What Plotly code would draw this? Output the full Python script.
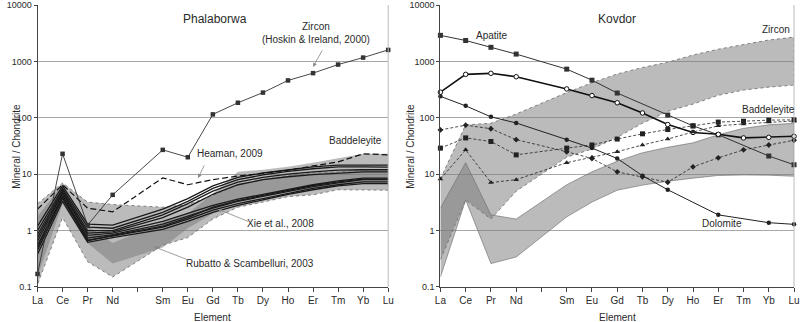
import plotly.graph_objects as go
import math

# ---------------- data ----------------
elements = ["La", "Ce", "Pr", "Nd", "", "Sm", "Eu", "Gd", "Tb", "Dy", "Ho", "Er", "Tm", "Yb", "Lu"]
pos = list(range(len(elements)))

# Phalaborwa panel
zircon_hoskin = [0.17, 23, 1.25, 4.3, None, 27, 20, 115, 185, 280, 460, 620, 880, 1170, 1600]
heaman_2009 = [2.4, 6.5, 2.5, 2.15, None, 8.6, 6.5, 8.0, 9.3, 10.3, 11.8, 14, 16.5, 23, 22]
baddeleyite_phal = [
    [1.2, 6.2, 1.3, 1.25, None, 2.4, 3.7, 6.2, 8.8, 10.5, 12, 13.5, 14.5, 14.5, 14.5],
    [1.0, 5.6, 1.15, 1.1, None, 2.1, 3.3, 5.6, 8.0, 9.7, 11.2, 12.5, 13.5, 13.5, 13.3],
    [0.85, 5.2, 1.0, 1.0, None, 1.9, 3.0, 5.0, 7.2, 8.8, 10.0, 11.0, 11.8, 12.0, 12.0],
    [0.75, 4.8, 0.9, 0.95, None, 1.7, 2.6, 4.4, 6.5, 8.0, 9.0, 9.8, 10.5, 11.0, 11.0],
    [0.65, 4.6, 0.82, 0.9, None, 1.45, 2.0, 2.8, 3.6, 4.4, 5.4, 6.5, 7.6, 8.5, 8.5],
    [0.55, 4.2, 0.74, 0.85, None, 1.3, 1.8, 2.5, 3.3, 4.0, 5.0, 6.0, 7.0, 8.0, 8.0],
    [0.45, 3.7, 0.68, 0.8, None, 1.15, 1.6, 2.3, 3.0, 3.7, 4.6, 5.6, 6.5, 7.3, 7.3],
    [0.38, 3.3, 0.62, 0.75, None, 1.05, 1.45, 2.1, 2.8, 3.5, 4.4, 5.3, 6.2, 6.8, 6.8],
    [0.5, 4.0, 0.66, 0.82, None, 1.2, 1.7, 2.6, 3.4, 4.2, 5.2, 6.3, 7.3, 8.2, 8.2],
]
rubatto_upper = [3.0, 7.0, 3.2, 2.9, None, 2.6, 2.9, 4.2, 6.5, 8.0, 9.5, 10.5, 11, 12, 12]
rubatto_lower = [0.11, 1.7, 0.28, 0.15, None, 0.55, 0.75, 1.6, 2.6, 3.2, 4.0, 4.3, 5.3, 5.3, 5.2]
xie_upper = [1.8, 6.6, 1.2, 0.6, None, 1.4, 2.0, 4.5, 11, 12, 13.5, 16, 19, 23, 23]
xie_lower = [0.15, 3.0, 0.6, 0.26, None, 0.5, 1.1, 2.0, 3.5, 4.0, 4.8, 5.5, 6.5, 7.0, 7.0]

# Kovdor panel
apatite = [2900, 2350, 1780, 1350, None, 730, 465, 275, None, 112, 72, 50, None, 21, 14.7]
kov_open_circle = [285, 590, 615, 535, None, 325, 248, 185, 122, 76, 55, 51, 44, 45, 47]
dolomite = [240, 163, 104, 81, None, 41, 29, 19, 9.4, 5.3, None, 1.9, None, 1.38, 1.29]
kov_diamond = [61, 74, 64, 41, None, 25, 19, 11, 9.0, 7.2, 13.5, 19.5, 27, 33, 40]
kov_square = [29, 44, 38, 22, None, 29, 33, 42, 52, 62, 72, 84, 87, 91, 92]
kov_triangle = [8.2, 27, 7.1, 8.0, None, 16, 20, 25, 33, 42, 56, 72, 78, 84, 88]
kzircon_upper = [8.3, 75, 80, 117, None, 280, 420, 600, 780, 970, 1300, 1650, 2000, 2400, 2700]
kzircon_lower = [0.3, 3.5, 1.6, 5.0, None, 20, 28, 45, 80, 130, 175, 250, 310, 350, 380]
kbadd_upper = [2.5, 16, 1.9, 1.6, None, 6.5, 11, 17, 24, 30, 36, 50, 65, 75, 80]
kbadd_lower = [0.15, 3.5, 0.26, 0.34, None, 1.75, 3.2, 5.2, 6.4, 7.5, 8.5, 9.5, 9.7, 9.6, 9.2]

y_tickvals = [0.1, 1, 10, 100, 1000, 10000]
y_ticktext = ["0.1", "1", "10", "100", "1000", "10000"]

# ---------------- figure ----------------
FONT = "Liberation Sans, Arial, sans-serif"
TXT = "#2a2a2a"
fig = go.Figure()


def band(xa, ya, upper, lower, color, edge_color, edge_dash, edge_w=1):
    xs_u = [p for p, v in zip(pos, upper) if v is not None]
    ys_u = [v for v in upper if v is not None]
    xs_l = [p for p, v in zip(pos, lower) if v is not None]
    ys_l = [v for v in lower if v is not None]
    fig.add_trace(go.Scatter(
        x=xs_u + xs_l[::-1], y=ys_u + ys_l[::-1], xaxis=xa, yaxis=ya,
        mode="lines", fill="toself", fillcolor=color,
        line=dict(color=edge_color, width=edge_w, dash=edge_dash),
        hoverinfo="skip", showlegend=False))


def series(xa, ya, vals, color="black", width=1.0, dash="solid", symbol=None, msize=5,
           mline=None):
    mode = "lines+markers" if symbol else "lines"
    marker = dict(symbol=symbol, size=msize, color=color) if symbol else None
    if symbol and mline:
        marker = dict(symbol=symbol, size=msize, color="white", line=dict(color=color, width=mline))
    fig.add_trace(go.Scatter(
        x=pos, y=vals, xaxis=xa, yaxis=ya, mode=mode, connectgaps=True,
        line=dict(color=color, width=width, dash=dash), marker=marker,
        cliponaxis=False, hoverinfo="skip", showlegend=False))


FILL = "rgba(120,120,120,0.5)"

# ---- left panel ----
band("x", "y", rubatto_upper, rubatto_lower, FILL, "rgba(90,90,90,0.7)", "dot")
band("x", "y", xie_upper, xie_lower, FILL, "rgba(0,0,0,0)", "solid", 0)
for b in baddeleyite_phal:
    series("x", "y", b, color="#1a1a1a", width=1.3)
series("x", "y", heaman_2009, color="#111111", width=1.2, dash="6px,3px")
series("x", "y", zircon_hoskin, color="#333333", width=0.9, symbol="square", msize=4.5)

# ---- right panel ----
band("x2", "y2", kzircon_upper, kzircon_lower, FILL, "rgba(90,90,90,0.7)", "dot")
band("x2", "y2", kbadd_upper, kbadd_lower, FILL, "rgba(110,110,110,0.8)", "solid", 0.8)
series("x2", "y2", apatite, color="#333333", width=1.0, symbol="square", msize=5)
series("x2", "y2", kov_open_circle, color="#111111", width=1.6, symbol="circle", msize=4.5, mline=1.0)
series("x2", "y2", dolomite, color="#222222", width=1.0, symbol="circle", msize=4.5)
series("x2", "y2", kov_diamond, color="#222222", width=0.8, dash="3px,2px", symbol="diamond", msize=4.5)
series("x2", "y2", kov_square, color="#222222", width=0.8, dash="3px,2px", symbol="square", msize=5)
series("x2", "y2", kov_triangle, color="#222222", width=0.8, dash="3px,2px", symbol="triangle-up", msize=5)

# ---- axes ----
xcommon = dict(range=[0, 14], tickvals=pos, ticktext=elements, ticks="outside", ticklen=4,
               tickcolor="#444", showline=True, linecolor="#444", linewidth=1,
               showgrid=False, zeroline=False, tickfont=dict(family=FONT, size=10, color=TXT))
ycommon = dict(type="log", range=[-1.0008, 4.0008], tickvals=y_tickvals, ticktext=y_ticktext,
               ticks="outside", ticklen=3, tickcolor="#444", showline=True, linecolor="#444",
               linewidth=1, showgrid=True, gridcolor="#a8a8a8", gridwidth=1, zeroline=False,
               automargin=False, ticklabeloverflow="allow",
               tickfont=dict(family=FONT, size=9, color=TXT))

L0, L1 = 32 / 803, 388 / 803
R0, R1 = 441 / 803, 800 / 803
PLOT_H = 322 - 5 - 35
fig.update_layout(
    width=803, height=322, margin=dict(l=0, r=0, t=5, b=35),
    paper_bgcolor="white", plot_bgcolor="white", showlegend=False,
    xaxis=dict(domain=[L0, L1], anchor="y", **xcommon),
    yaxis=dict(domain=[0, 1], anchor="x", **ycommon),
    xaxis2=dict(domain=[R0, R1], anchor="y2", **xcommon),
    yaxis2=dict(domain=[0, 1], anchor="x2", **ycommon),
)

# right frame lines
for x1 in (L1, R1):
    fig.add_shape(type="line", xref="paper", yref="paper", x0=x1, x1=x1, y0=0, y1=1,
                  line=dict(color="#bbbbbb", width=1))


# ---- annotations ----
def txt(xref, yref, x, y, text, size=10, xanchor="center"):
    fig.add_annotation(xref=xref, yref=yref, x=x, y=y, text=text, showarrow=False,
                       xanchor=xanchor, yanchor="middle",
                       font=dict(family=FONT, size=size, color=TXT))


def arrow(xref, yref, x, y, ax, ay):
    fig.add_annotation(xref=xref, yref=yref, x=x, y=y, ax=ax, ay=ay, text="",
                       showarrow=True, arrowhead=2, arrowsize=1, arrowwidth=0.8,
                       arrowcolor="#888888")


def ly(v):
    return math.log10(v)


# left
txt("x", "y", 7.08, ly(5600), "Phalaborwa", size=12)
txt("x", "y", 11.13, ly(3200), "Zircon<br>(Hoskin &amp; Ireland, 2000)", size=10)
arrow("x", "y", 11.0, ly(800), 10, -18)
txt("x", "y", 12.7, ly(40), "Baddeleyite", size=10)
txt("x", "y", 7.7, ly(23), "Heaman, 2009", size=10)
arrow("x", "y", 6.41, ly(8.6), 7, -14)
txt("x", "y", 9.7, ly(1.33), "Xie et al., 2008", size=10)
arrow("x", "y", 7.2, ly(2.4), 32, 13)
txt("x", "y", 8.49, ly(0.26), "Rubatto &amp; Scambelluri, 2003", size=10)
arrow("x", "y", 4.64, ly(0.52), 36, 14)

# right
txt("x2", "y2", 6.98, ly(5600), "Kovdor", size=12)
txt("x2", "y2", 2.03, ly(2900), "Apatite", size=10)
txt("x2", "y2", 13.3, ly(3700), "Zircon", size=10)
txt("x2", "y2", 13.0, ly(138), "Baddeleyite", size=10)
txt("x2", "y2", 11.15, ly(1.33), "Dolomite", size=10)

# axis titles
for xc in ((L0 + L1) / 2, (R0 + R1) / 2):
    fig.add_annotation(xref="paper", yref="paper", x=xc, y=-30 / PLOT_H, text="Element",
                       showarrow=False, xanchor="center", yanchor="middle",
                       font=dict(family=FONT, size=10, color=TXT))
for xp in (10 / 803, 410 / 803):
    fig.add_annotation(xref="paper", yref="paper", x=xp, y=0.5, text="Mineral / Chondrite",
                       showarrow=False, textangle=-90, xanchor="center", yanchor="middle",
                       font=dict(family=FONT, size=10, color=TXT))

fig.write_html("out.html")
